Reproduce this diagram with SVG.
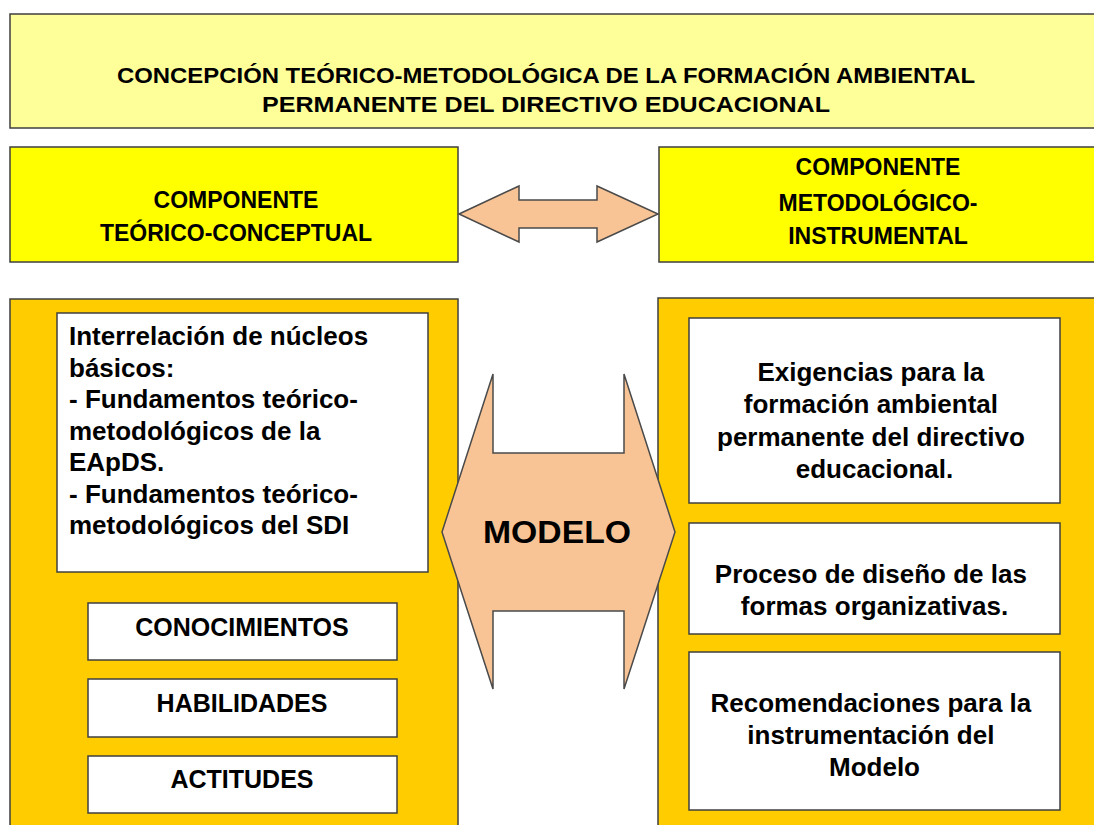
<svg xmlns="http://www.w3.org/2000/svg" width="1094" height="825" viewBox="0 0 1094 825">
<style>
.t{font-family:"Liberation Sans",Arial,sans-serif;font-weight:bold;fill:#000}
.c{text-anchor:middle}
.bx{stroke:#3f3f3f;stroke-width:1.5}
.title{fill:#ffff99}
.comp{fill:#ffff00}
.panel{fill:#ffcc00}
.white{fill:#ffffff}
.arrow{fill:#f9c495;stroke:#4a4a4a;stroke-width:1.5;stroke-linejoin:miter}
</style>
<rect width="1094" height="825" fill="#ffffff"/>
<g id="titulo">
<rect class="bx title" x="10" y="14" width="1094" height="114"/>
<text class="t c" x="546" y="83" font-size="22" textLength="858" lengthAdjust="spacingAndGlyphs">CONCEPCIÓN TEÓRICO-METODOLÓGICA DE LA FORMACIÓN AMBIENTAL</text>
<text class="t c" x="546" y="112" font-size="22" textLength="568" lengthAdjust="spacingAndGlyphs">PERMANENTE DEL DIRECTIVO EDUCACIONAL</text>
</g>
<g id="comp-teorico">
<rect class="bx comp" x="10" y="147" width="448" height="115"/>
<text class="t c" x="236" y="208" font-size="23">COMPONENTE</text>
<text class="t c" x="236" y="241" font-size="23">TEÓRICO-CONCEPTUAL</text>
</g>
<g id="comp-metodologico">
<rect class="bx comp" x="659" y="147" width="445" height="115"/>
<text class="t c" x="878" y="175" font-size="23">COMPONENTE</text>
<text class="t c" x="878" y="211" font-size="23">METODOLÓGICO-</text>
<text class="t c" x="878" y="244" font-size="23">INSTRUMENTAL</text>
</g>
<g id="panel-izq">
<rect class="bx panel" x="10" y="299" width="448" height="540"/>
</g>
<g id="panel-der">
<rect class="bx panel" x="658" y="298" width="446" height="540"/>
</g>
<g id="nucleos">
<rect class="bx white" x="57" y="313" width="371" height="259"/>
<text class="t" font-size="26" x="69">
<tspan x="69" y="345">Interrelación de núcleos</tspan>
<tspan x="69" y="376.5">básicos:</tspan>
<tspan x="69" y="408">- Fundamentos teórico-</tspan>
<tspan x="69" y="439.5">metodológicos de la</tspan>
<tspan x="69" y="471">EApDS.</tspan>
<tspan x="69" y="502.5">- Fundamentos teórico-</tspan>
<tspan x="69" y="534">metodológicos del SDI</tspan>
</text>
</g>
<g id="conocimientos">
<rect class="bx white" x="88" y="603" width="309" height="57"/>
<text class="t c" x="242" y="636" font-size="25">CONOCIMIENTOS</text>
</g>
<g id="habilidades">
<rect class="bx white" x="88" y="679" width="309" height="58"/>
<text class="t c" x="242" y="712" font-size="25">HABILIDADES</text>
</g>
<g id="actitudes">
<rect class="bx white" x="88" y="756" width="309" height="57"/>
<text class="t c" x="242" y="788" font-size="25">ACTITUDES</text>
</g>
<g id="exigencias">
<rect class="bx white" x="689" y="318" width="371" height="185"/>
<text class="t c" font-size="26">
<tspan x="874.5" y="381">Exigencias para la</tspan>
<tspan x="874.5" y="413">formación ambiental</tspan>
<tspan x="874.5" y="446">permanente del directivo</tspan>
<tspan x="874.5" y="478">educacional.</tspan>
</text>
</g>
<g id="proceso">
<rect class="bx white" x="689" y="523" width="371" height="111"/>
<text class="t c" font-size="26">
<tspan x="874.5" y="583">Proceso de diseño de las</tspan>
<tspan x="874.5" y="615">formas organizativas.</tspan>
</text>
</g>
<g id="recomendaciones">
<rect class="bx white" x="689" y="652" width="371" height="158"/>
<text class="t c" font-size="26">
<tspan x="874.5" y="712">Recomendaciones para la</tspan>
<tspan x="874.5" y="744">instrumentación del</tspan>
<tspan x="874.5" y="776">Modelo</tspan>
</text>
</g>
<g id="connectors">
<polygon class="arrow" points="459,214 519,186 519,200 597,200 597,186 658,214 597,242 597,228 519,228 519,242"/>
<polygon class="arrow" points="442,532 493,374 493,453 624,453 624,374 675,532 624,689 624,611 493,611 493,689"/>
</g>
<g id="modelo">
<text class="t c" x="557" y="543" font-size="31" textLength="148" lengthAdjust="spacingAndGlyphs">MODELO</text>
</g>
</svg>
